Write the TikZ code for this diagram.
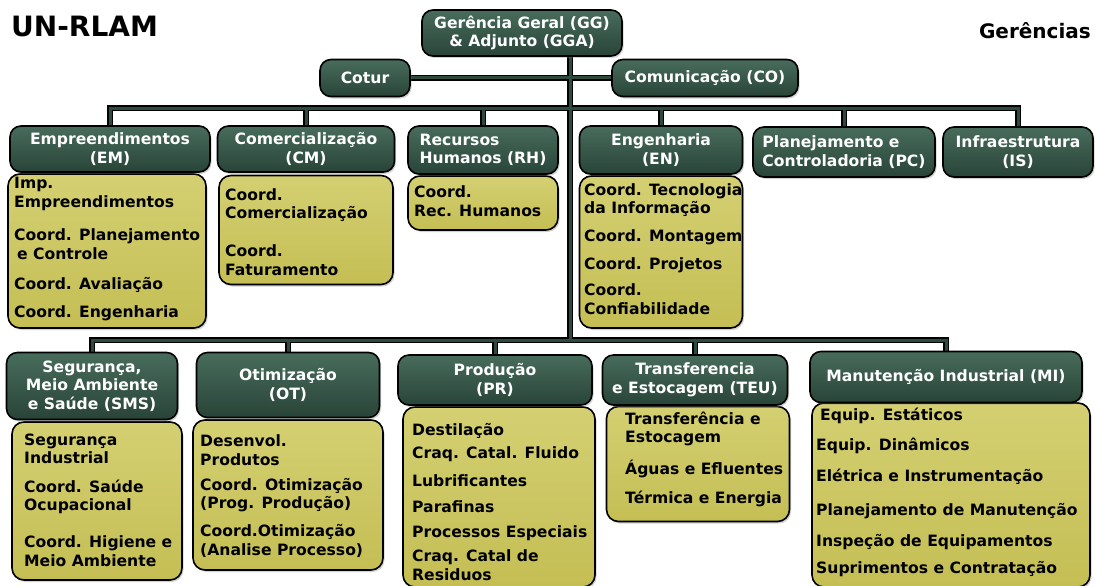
\documentclass[tikz,border=0pt]{standalone}
\usepackage{fontspec}
\setmainfont{DejaVu Sans}
\usetikzlibrary{shadows,backgrounds}

\definecolor{hdtop}{RGB}{72,108,92}
\definecolor{hdbot}{RGB}{40,68,56}
\definecolor{yltop}{RGB}{212,208,114}
\definecolor{ylbot}{RGB}{196,190,84}
\definecolor{wirec}{RGB}{44,74,62}
\newcommand{\boxfont}{\fontsize{15.6pt}{18.5pt}\selectfont\bfseries}

\begin{document}
\begin{tikzpicture}[x=1pt, y=-1pt,
    hdr/.style={draw=black, line width=1.6pt, rounded corners=11pt, top color=hdtop, bottom color=hdbot,
        text=white, font=\boxfont, align=center, inner sep=0pt,
        drop shadow={shadow xshift=1.5pt, shadow yshift=-2pt, opacity=0.35}},
    ylw/.style={draw=black, line width=1.6pt, rounded corners=12pt, top color=yltop, bottom color=ylbot,
        drop shadow={shadow xshift=1.5pt, shadow yshift=-2pt, opacity=0.35}},
    item/.style={anchor=west, align=left, inner sep=0pt, font=\boxfont},
    wireback/.style={line width=6pt, draw=black},
    wirefront/.style={line width=3pt, draw=wirec}]
    \useasboundingbox (0,0) rectangle (1095,586);

    % titles
    \node[anchor=west, inner sep=0pt, font=\fontsize{28pt}{30pt}\selectfont\bfseries] (title) at (11,26) {UN-RLAM};
    \node[anchor=east, inner sep=0pt, font=\fontsize{20pt}{22pt}\selectfont\bfseries] (ger) at (1091,31) {Gerências};

    % top level
    \node[hdr, minimum width=200pt, minimum height=46pt] (gg) at (522,33) {Gerência Geral (GG)\\\& Adjunto (GGA)};
    \node[hdr, minimum width=90pt, minimum height=37pt] (cotur) at (365,78) {Cotur};
    \node[hdr, minimum width=186pt, minimum height=37pt] (co) at (705,78) {Comunicação (CO)};

    % first row: lists
    \node[ylw, minimum width=198pt, minimum height=154pt] (emb) at (107,251) {};
    \node[ylw, minimum width=174pt, minimum height=109pt] (cmb) at (306,230) {};
    \node[ylw, minimum width=150pt, minimum height=54pt] (rhb) at (483,203) {};
    \node[ylw, minimum width=163pt, minimum height=152pt] (enb) at (661,252) {};
    % first row: gerencias
    \node[hdr, minimum width=200pt, minimum height=46pt] (em) at (110,149) {Empreendimentos\\(EM)};
    \node[hdr, minimum width=177pt, minimum height=46pt] (cm) at (306,149) {Comercialização\\(CM)};
    \node[hdr, minimum width=150pt, minimum height=48pt, align=left] (rh) at (483,150) {Recursos\\Humanos (RH)};
    \node[hdr, minimum width=163pt, minimum height=48pt] (en) at (661,150) {Engenharia\\(EN)};
    \node[hdr, minimum width=182pt, minimum height=50pt, align=left] (pc) at (844,152) {Planejamento e\\Controladoria (PC)};
    \node[hdr, minimum width=150pt, minimum height=50pt] (is) at (1018,152) {Infraestrutura\\(IS)};

    \node[item] (em1) at (14,194) {Imp.\\Empreendimentos};
    \node[item] (em2) at (14,244) {Coord. Planejamento\\\hspace{3pt}e Controle};
    \node[item] (em3) at (14,285) {Coord. Avaliação};
    \node[item] (em4) at (14,313) {Coord. Engenharia};
    \node[item] (cm1) at (225,205) {Coord.\\Comercialização};
    \node[item] (cm2) at (225,260) {Coord.\\Faturamento};
    \node[item] (rh1) at (414,201) {Coord.\\Rec. Humanos};
    \node[item] (en1) at (584,200) {Coord. Tecnologia\\da Informação};
    \node[item] (en2) at (584,237) {Coord. Montagem};
    \node[item] (en3) at (584,265) {Coord. Projetos};
    \node[item] (en4) at (584,299) {Coord.\\Confiabilidade};

    % second row: lists
    \node[ylw, minimum width=170pt, minimum height=158pt] (smb) at (97,501) {};
    \node[ylw, minimum width=190pt, minimum height=150pt] (otb) at (288,495) {};
    \node[ylw, minimum width=192pt, minimum height=180pt] (prb) at (499,497) {};
    \node[ylw, minimum width=183pt, minimum height=115pt] (teb) at (698,464) {};
    \node[ylw, minimum width=278pt, minimum height=184pt] (mib) at (951,495) {};
    % second row: gerencias
    \node[hdr, minimum width=171pt, minimum height=67pt] (sms) at (92,386) {Segurança,\\Meio Ambiente\\e Saúde (SMS)};
    \node[hdr, minimum width=183pt, minimum height=65pt] (ot) at (288,385) {Otimização\\(OT)};
    \node[hdr, minimum width=194pt, minimum height=50pt] (pr) at (495,380) {Produção\\(PR)};
    \node[hdr, minimum width=185pt, minimum height=50pt] (teu) at (695,380) {Transferencia\\e Estocagem (TEU)};
    \node[hdr, minimum width=272pt, minimum height=51pt] (mi) at (946,377) {Manutenção Industrial (MI)};

    \node[item] (sm1) at (24,449) {Segurança\\Industrial};
    \node[item] (sm2) at (24,497) {Coord. Saúde\\Ocupacional};
    \node[item] (sm3) at (24,551) {Coord. Higiene e\\Meio Ambiente};
    \node[item] (ot1) at (200,450) {Desenvol.\\Produtos};
    \node[item] (ot2) at (200,495) {Coord. Otimização\\(Prog. Produção)};
    \node[item] (ot3) at (200,541) {Coord.Otimização\\(Analise Processo)};
    \node[item] (pr1) at (412,431) {Destilação};
    \node[item] (pr2) at (412,454) {Craq. Catal. Fluido};
    \node[item] (pr3) at (412,481) {Lubrificantes};
    \node[item] (pr4) at (412,507) {Parafinas};
    \node[item] (pr5) at (412,533) {Processos Especiais};
    \node[item] (pr6) at (412,565) {Craq. Catal de\\Residuos};
    \node[item] (te1) at (625,429) {Transferência e\\Estocagem};
    \node[item] (te2) at (625,469) {Águas e Efluentes};
    \node[item] (te3) at (625,499) {Térmica e Energia};
    \node[item] (mi1) at (820,416) {Equip. Estáticos};
    \node[item] (mi2) at (816,446) {Equip. Dinâmicos};
    \node[item] (mi3) at (816,477) {Elétrica e Instrumentação};
    \node[item] (mi4) at (816,511) {Planejamento de Manutenção};
    \node[item] (mi5) at (816,542) {Inspeção de Equipamentos};
    \node[item] (mi6) at (816,569) {Suprimentos e Contratação};

    % connectors
    \coordinate (bus1) at (570,108);
    \coordinate (bus2) at (570,340);
    \begin{scope}[on background layer]
        \fill[white] (0,0) rectangle (1095,586);
        \foreach \w in {wireback,wirefront} {
            \draw[\w] (cotur.east) -- (co.west);
            \draw[\w] (gg.south -| bus2) -- (bus2);
            \draw[\w] (em.north) |- (bus1) -- (bus1 -| is.north) -- (is.north);
            \foreach \n in {cm,rh,en,pc}
                \draw[\w] (\n.north) -- (\n.north |- bus1);
            \draw[\w] (sms.north) |- (bus2) -- (bus2 -| mi.north) -- (mi.north);
            \foreach \n in {ot,pr,teu}
                \draw[\w] (\n.north) -- (\n.north |- bus2);
        }
    \end{scope}
\end{tikzpicture}
\end{document}
